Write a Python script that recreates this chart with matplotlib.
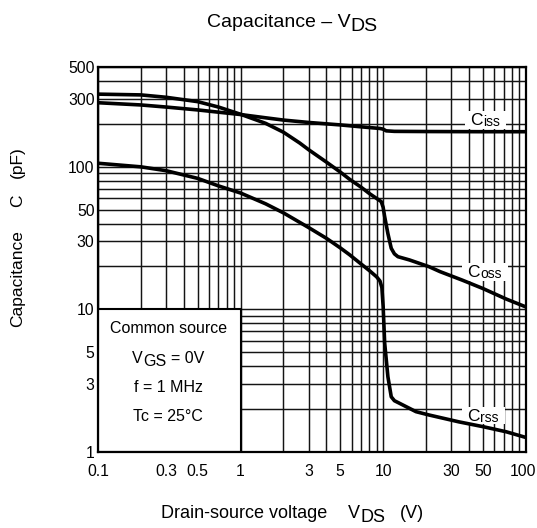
import matplotlib
matplotlib.use("Agg")
import matplotlib.pyplot as plt
from matplotlib.transforms import IdentityTransform, ScaledTranslation
from matplotlib.patches import Rectangle
from matplotlib.ticker import FixedLocator, FixedFormatter, NullFormatter

plt.rcParams['font.family'] = ['Liberation Sans', 'DejaVu Sans']

# ---------------- data ----------------
ciss_v = [0.1, 0.2, 0.3, 0.5, 0.7, 1, 1.5, 2, 3, 5, 7, 9.5, 10, 10.5, 12, 20, 50, 100]
ciss_c = [282, 272, 263, 251, 242, 233, 221, 213, 205, 197, 191, 186, 184, 179, 177.5, 177, 176.5, 176.5]

coss_v = [0.1, 0.2, 0.3, 0.5, 0.7, 1, 1.5, 2, 2.6, 3, 4, 5, 5.8, 7, 8, 9, 9.7, 10.0, 10.25,
          10.8, 11.4, 12, 12.7, 15.3, 21, 25, 36, 50, 73, 100]
coss_c = [324, 320, 308, 287, 263, 234, 202, 175, 147, 132, 108, 92, 82, 72, 65, 60, 57, 52, 44.7,
          34, 26.8, 24.5, 23.4, 22.2, 19.9, 18.4, 16.0, 14.0, 11.8, 10.4]

crss_v = [0.1, 0.2, 0.3, 0.5, 0.7, 1, 1.5, 2, 3, 4, 5, 5.8, 7, 8, 9, 9.5, 9.8, 10.0, 10.25,
          10.8, 11.4, 12, 13, 17, 21, 34, 50, 73, 100]
crss_c = [106, 100, 94, 83, 73.5, 65.5, 55, 47.5, 37.5, 31.5, 27, 24.2, 20.8, 18.7, 16.9, 15.8, 14.2, 10.5, 5.8,
          3.36, 2.43, 2.28, 2.19, 1.91, 1.81, 1.62, 1.5, 1.38, 1.26]

x_ticks = [0.1, 0.3, 0.5, 1, 3, 5, 10, 30, 50, 100]
x_tick_labels = ['0.1', '0.3', '0.5', '1', '3', '5', '10', '30', '50', '100']
y_ticks = [1, 3, 5, 10, 30, 50, 100, 300, 500]
y_tick_labels = ['1', '3', '5', '10', '30', '50', '100', '300', '500']

box_lines = ['Common source', 'VGS = 0V', 'f = 1 MHz', 'Tc = 25°C']

# ---------------- figure ----------------
W, H = 537, 528
fig = plt.figure(figsize=(W / 100, H / 100), dpi=100)
L, R, T, B = 98, 525.7, 67.3, 451.7
ax = fig.add_axes([L / W, 1 - B / H, (R - L) / W, (B - T) / H])
ax.set_xscale('log')
ax.set_yscale('log')
ax.set_xlim(0.1, 100)
ax.set_ylim(1, 500)

# grid: every integer multiple of each decade
all_x = [m * 10 ** e for e in (-1, 0, 1) for m in range(1, 10)] + [100]
all_y = [m * 10 ** e for e in (0, 1, 2) for m in range(1, 10) if m * 10 ** e <= 500]
ax.xaxis.set_major_locator(FixedLocator(x_ticks))
ax.xaxis.set_major_formatter(FixedFormatter(x_tick_labels))
ax.xaxis.set_minor_locator(FixedLocator([v for v in all_x if v not in x_ticks]))
ax.xaxis.set_minor_formatter(NullFormatter())
ax.yaxis.set_major_locator(FixedLocator(y_ticks))
ax.yaxis.set_major_formatter(FixedFormatter(y_tick_labels))
ax.yaxis.set_minor_locator(FixedLocator([v for v in all_y if v not in y_ticks]))
ax.yaxis.set_minor_formatter(NullFormatter())
ax.set_axisbelow(True)
ax.grid(True, which='both', color='#141414', linewidth=1.05)
ax.tick_params(which='both', length=0)
ax.tick_params(axis='x', pad=9, labelsize=11.3)
ax.tick_params(axis='y', pad=2.5, labelsize=11.3)
for sp in ax.spines.values():
    sp.set_linewidth(1.6)
    sp.set_color('black')
    sp.set_zorder(4)

# keep the last x tick label inside the canvas
last = ax.get_xticklabels()[-1]
last.set_transform(last.get_transform() + ScaledTranslation(-2.5 / 100, 0, fig.dpi_scale_trans))

# curves
for xs, ys in ((ciss_v, ciss_c), (coss_v, coss_c), (crss_v, crss_c)):
    ax.plot(xs, ys, color='black', linewidth=2.6, solid_joinstyle='round',
            solid_capstyle='butt', zorder=3)

# condition box
ax.add_patch(Rectangle((0.1, 1), 0.9, 9, facecolor='white', edgecolor='black',
                       linewidth=1.5, zorder=2.5))

renderer = fig.canvas.get_renderer()


def rich(parts, x, y, ha='left'):
    """parts: (text, size, drop_px, gap_px); x, y in pixels from top-left, y = baseline."""
    arts = []
    cx = x
    for s, fs, dy, gap in parts:
        cx += gap
        t = fig.text(cx, H - y - dy, s, fontsize=fs, transform=IdentityTransform(),
                     ha='left', va='baseline', zorder=5)
        w = t.get_window_extent(renderer).width
        arts.append(t)
        cx += w
    if ha == 'center':
        shift = (cx - x) / 2
        for t in arts:
            px, py = t.get_position()
            t.set_position((px - shift, py))
    return arts


# title
rich([('Capacitance – V', 14, 0, 0), ('DS', 14, 4, 0)], 292, 27.3, ha='center')

# x label
rich([('Drain-source voltage', 13, 0, 0)], 161, 518)
rich([('V', 13, 0, 0), ('DS', 13, 4, 0)], 348, 518)
rich([('(V)', 13, 0, 0)], 400, 518)

# y label (rotated pieces)
fig.text(17.5 / W, 1 - 327 / H, 'Capacitance', rotation=90, ha='center', va='bottom', fontsize=12.5)
fig.text(17.5 / W, 1 - 207 / H, 'C', rotation=90, ha='center', va='bottom', fontsize=12.5)
fig.text(17.5 / W, 1 - 178 / H, '(pF)', rotation=90, ha='center', va='bottom', fontsize=12.5)

# box texts
rich([(box_lines[0], 11.5, 0, 0)], 168.3, 333.3, ha='center')
rich([('V', 11.5, 0, 0), ('GS', 11.5, 3, 0), ('= 0V', 11.5, 0, 5)], 168.3, 363.3, ha='center')
rich([(box_lines[2], 11.5, 0, 0)], 168.3, 391.7, ha='center')
rich([(box_lines[3], 11.5, 0, 0)], 168.3, 420.7, ha='center')

# curve labels with white background
for sub, lx, ly in (('iss', 470, 125), ('oss', 466.7, 277.3), ('rss', 466.7, 420.7)):
    arts = rich([('C', 12.5, 0, 0), (sub, 10, 1, 0.8)], lx, ly)
    exts = [a.get_window_extent(renderer) for a in arts]
    x0 = min(e.x0 for e in exts) - 5
    x1 = max(e.x1 for e in exts) + 6
    y0 = min(e.y0 for e in exts) + 0.5
    y1 = max(e.y1 for e in exts) + 2
    ax.add_patch(Rectangle((x0, y0), x1 - x0, y1 - y0, transform=IdentityTransform(),
                           facecolor='white', edgecolor='none', zorder=2.6))

fig.savefig('out.png', dpi=100)
